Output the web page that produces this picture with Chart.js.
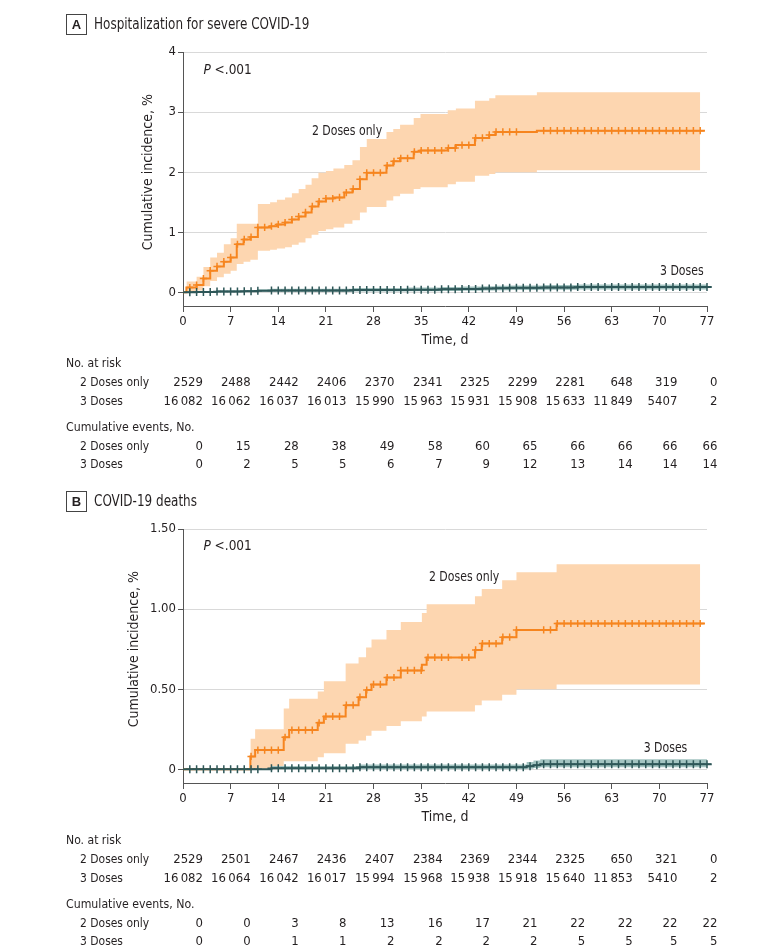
<!DOCTYPE html>
<html lang="en">
<head>
<meta charset="UTF-8">
<title>Cumulative incidence by dose group</title>
<style>
  body { margin: 0; background: #fff; overflow: hidden; }
  canvas { position: absolute; left: 0; }
  #chartA { top: 0; }
  #chartB { top: 477px; }
</style>
</head>
<body>
<canvas id="chartA" width="780" height="477"></canvas>
<canvas id="chartB" width="780" height="477"></canvas>

<script src="https://cdn.jsdelivr.net/npm/chart.js"></script>
<script>
// x axis / table columns
const timeTicks = [0, 7, 14, 21, 28, 35, 42, 49, 56, 63, 70, 77];

// ---- Panel A: hospitalization ----
const yTicksA = [0, 1, 2, 3, 4];
const yLabelsA = ['0', '1', '2', '3', '4'];

const twoDaysA = [0.5, 2, 3, 4, 5, 6, 7, 7.9, 8.9, 9.9, 11, 12.8, 13.8, 15, 16, 17, 18, 18.9, 19.9, 21,
  22.1, 23.7, 24.9, 26, 27, 29.9, 30.9, 31.9, 33.9, 34.9, 38.9, 40.1, 42.9, 45, 45.9, 52];
const twoEstA = [0.08, 0.12, 0.23, 0.36, 0.43, 0.51, 0.58, 0.8, 0.88, 0.92, 1.08, 1.1, 1.13, 1.16, 1.21, 1.26, 1.33, 1.43, 1.51, 1.56,
  1.58, 1.66, 1.72, 1.88, 1.99, 2.11, 2.18, 2.23, 2.34, 2.36, 2.4, 2.45, 2.57, 2.62, 2.67, 2.69];
const twoLowA = [0, 0.03, 0.1, 0.19, 0.25, 0.31, 0.36, 0.47, 0.51, 0.54, 0.69, 0.71, 0.73, 0.75, 0.79, 0.83, 0.9, 0.96, 1.02, 1.05,
  1.08, 1.14, 1.2, 1.33, 1.42, 1.53, 1.6, 1.64, 1.72, 1.75, 1.8, 1.84, 1.94, 1.97, 2.0, 2.03];
const twoHighA = [0.18, 0.26, 0.42, 0.58, 0.66, 0.8, 0.9, 1.14, 1.14, 1.14, 1.47, 1.5, 1.54, 1.58, 1.65, 1.72, 1.79, 1.9, 1.99, 2.02,
  2.06, 2.12, 2.2, 2.42, 2.55, 2.67, 2.72, 2.79, 2.9, 2.97, 3.03, 3.06, 3.19, 3.23, 3.28, 3.33];
const twoCensorA = [1, 2, 3, 4, 5, 6, 7, 8, 9, 10, 11, 12, 13, 14, 15, 16, 17, 18, 19, 20, 21, 22, 23, 24, 25,
  26, 27, 28, 29, 30, 31, 32, 33, 34, 35, 36, 37, 38, 39, 40, 41, 42, 43, 44, 45, 46, 47, 48, 49,
  53, 54, 55, 56, 57, 58, 59, 60, 61, 62, 63, 64, 65, 66, 67, 68, 69, 70, 71, 72, 73, 74, 75, 76];

const threeDaysA = [2, 5, 9, 11, 13, 25, 33, 38, 41, 44, 46, 48, 53, 58];
const threeEstA = [0.006, 0.012, 0.019, 0.025, 0.031, 0.037, 0.044, 0.05, 0.056, 0.062, 0.069, 0.075, 0.081, 0.088];
const threeLowA = [0, 0.002, 0.005, 0.008, 0.011, 0.015, 0.019, 0.023, 0.027, 0.031, 0.035, 0.04, 0.044, 0.048];
const threeHighA = [0.02, 0.03, 0.04, 0.05, 0.06, 0.07, 0.08, 0.09, 0.095, 0.1, 0.11, 0.115, 0.12, 0.13];
const threeCensorA = [1, 2, 3, 4, 5, 6, 7, 8, 9, 10, 11, 13, 14, 15, 16, 17, 18, 19, 20, 21, 22, 23, 24, 25,
  26, 27, 28, 29, 30, 31, 32, 33, 34, 35, 36, 37, 38, 39, 40, 41, 42, 43, 44, 45, 46, 47, 48, 49, 50,
  51, 52, 53, 54, 55, 56, 57, 58, 59, 60, 61, 62, 63, 64, 65, 66, 67, 68, 69, 70, 71, 72, 73, 74, 75, 76, 77];

const riskTwoA = [2529, 2488, 2442, 2406, 2370, 2341, 2325, 2299, 2281, 648, 319, 0];
const riskThreeA = [16082, 16062, 16037, 16013, 15990, 15963, 15931, 15908, 15633, 11849, 5407, 2];
const eventsTwoA = [0, 15, 28, 38, 49, 58, 60, 65, 66, 66, 66, 66];
const eventsThreeA = [0, 2, 5, 5, 6, 7, 9, 12, 13, 14, 14, 14];

// ---- Panel B: deaths ----
const yTicksB = [0, 0.5, 1, 1.5];
const yLabelsB = ['0', '0.50', '1.00', '1.50'];

const twoDaysB = [9.9, 10.6, 14.8, 15.6, 19.8, 20.7, 23.9, 25.8, 26.9, 27.7, 29.9, 32, 35.1, 35.8, 42.9, 43.9, 46.9, 49, 54.9];
const twoEstB = [0.08, 0.12, 0.2, 0.245, 0.29, 0.33, 0.4, 0.45, 0.495, 0.53, 0.573, 0.617, 0.652, 0.698, 0.745, 0.785, 0.825, 0.87, 0.91];
const twoLowB = [0, 0, 0.05, 0.05, 0.075, 0.1, 0.16, 0.18, 0.21, 0.24, 0.27, 0.3, 0.33, 0.36, 0.4, 0.43, 0.465, 0.5, 0.53];
const twoHighB = [0.19, 0.25, 0.38, 0.44, 0.485, 0.55, 0.66, 0.7, 0.76, 0.81, 0.87, 0.92, 0.975, 1.03, 1.08, 1.125, 1.18, 1.23, 1.28];
const twoCensorB = [10, 11, 12, 13, 14, 15, 16, 17, 18, 19, 20, 21, 22, 23, 24, 25, 26, 27, 28, 29, 30,
  31, 32, 33, 34, 35, 36, 37, 38, 39, 41, 42, 43, 44, 45, 46, 47, 48, 49,
  53, 54, 55, 56, 57, 58, 59, 60, 61, 62, 63, 64, 65, 66, 67, 68, 69, 70, 71, 72, 73, 74, 75, 76];

const threeDaysB = [13, 26, 50.5, 51.5, 52.5];
const threeEstB = [0.006, 0.012, 0.019, 0.025, 0.031];
const threeLowB = [0, 0.001, 0.004, 0.008, 0.012];
const threeHighB = [0.02, 0.03, 0.045, 0.055, 0.062];
const threeCensorB = [1, 2, 3, 4, 5, 6, 7, 8, 9, 10, 11, 13, 14, 15, 16, 17, 18, 19, 20, 21, 22, 23, 24, 25,
  26, 27, 28, 29, 30, 31, 32, 33, 34, 35, 36, 37, 38, 39, 40, 41, 42, 43, 44, 45, 46, 47, 48, 49, 50,
  51, 52, 53, 54, 55, 56, 57, 58, 59, 60, 61, 62, 63, 64, 65, 66, 67, 68, 69, 70, 71, 72, 73, 74, 75, 76, 77];

const riskTwoB = [2529, 2501, 2467, 2436, 2407, 2384, 2369, 2344, 2325, 650, 321, 0];
const riskThreeB = [16082, 16064, 16042, 16017, 15994, 15968, 15938, 15918, 15640, 11853, 5410, 2];
const eventsTwoB = [0, 0, 3, 8, 13, 16, 17, 21, 22, 22, 22, 22];
const eventsThreeB = [0, 0, 1, 1, 2, 2, 2, 2, 5, 5, 5, 5];

// ---- drawing ----
const ORANGE = '#F6851F';
const PEACH = '#FDD6B0';
const TEAL = '#2E5758';
const TEAL_BAND = '#A3C4C1';
const INK = '#231F20';
const NARROW = '"Liberation Sans Narrow", "DejaVu Sans Condensed", sans-serif';

function stepAt(days, vals, t) {
  let v = 0;
  for (let i = 0; i < days.length; i++) if (days[i] <= t) v = vals[i];
  return v;
}
function curve(days, vals, end, fromZero) {
  const pts = days.map((d, i) => ({ x: d, y: vals[i] }));
  if (fromZero) pts.unshift({ x: 0, y: 0 });
  pts.push({ x: end, y: vals[vals.length - 1] });
  return pts;
}
function fmt(n) {
  const s = String(n);
  return s.length > 4 ? s.slice(0, s.length - 3) + '\u2009' + s.slice(-3) : s;
}
// text squeezed a little sideways, the original face is narrower than ours
function squeezed(ctx, txt, x, y, k) {
  ctx.save();
  ctx.translate(x, y);
  ctx.scale(k, 1);
  ctx.fillText(txt, 0, 0);
  ctx.restore();
}

const textPlugin = {
  id: 'panelText',
  afterDraw(chart) {
    const p = chart.options.plugins.panelText;
    const ctx = chart.ctx;
    const xs = chart.scales.x, ys = chart.scales.y;
    ctx.save();
    ctx.fillStyle = INK;
    ctx.strokeStyle = '#444';
    ctx.lineWidth = 1;

    // panel letter box + title
    ctx.strokeRect(66.5, 14.5, 20, 20);
    ctx.font = 'bold 13px "Liberation Sans", Arial, sans-serif';
    ctx.textAlign = 'center';
    ctx.textBaseline = 'middle';
    ctx.fillText(p.letter, 76.5, 25);
    ctx.font = '15px ' + NARROW;
    ctx.textAlign = 'left';
    squeezed(ctx, p.title, 94, 25, 0.89);

    // P value
    ctx.font = 'italic 13.5px ' + NARROW;
    const px = xs.getPixelForValue(p.pPos[0]), py = ys.getPixelForValue(p.pPos[1]);
    ctx.fillText('P', px, py);
    const pw = ctx.measureText('P ').width;
    ctx.font = '13.5px ' + NARROW;
    ctx.fillText('<.001', px + pw, py);

    // group labels
    ctx.textAlign = 'center';
    squeezed(ctx, '2 Doses only', xs.getPixelForValue(p.twoLabel[0]), ys.getPixelForValue(p.twoLabel[1]), 0.9);
    squeezed(ctx, '3 Doses', xs.getPixelForValue(p.threeLabel[0]), ys.getPixelForValue(p.threeLabel[1]), 0.9);

    // axis titles
    ctx.font = '14px ' + NARROW;
    ctx.fillText('Time, d', (xs.left + xs.right) / 2, 340);
    ctx.save();
    ctx.translate(p.yTitleX, ys.getPixelForValue(p.yMid));
    ctx.rotate(-Math.PI / 2);
    ctx.fillText('Cumulative incidence, %', 0, 0);
    ctx.restore();

    // number-at-risk / events table
    const shift = [20, 20, 20.5, 20.5, 21, 21.5, 21, 21, 21, 21, 18, 10.5];
    const rowsY = [364, 383, 402, 428, 447, 465];
    ctx.font = '13px ' + NARROW;
    ctx.textAlign = 'left';
    squeezed(ctx, 'No. at risk', 66, rowsY[0], 0.93);
    squeezed(ctx, '2 Doses only', 80, rowsY[1], 0.92);
    squeezed(ctx, '3 Doses', 80, rowsY[2], 0.92);
    squeezed(ctx, 'Cumulative events, No.', 66, rowsY[3], 0.94);
    squeezed(ctx, '2 Doses only', 80, rowsY[4], 0.92);
    squeezed(ctx, '3 Doses', 80, rowsY[5], 0.92);
    ctx.textAlign = 'right';
    const rows = [[p.riskTwo, 1], [p.riskThree, 2], [p.eventsTwo, 4], [p.eventsThree, 5]];
    rows.forEach(([vals, r]) => {
      vals.forEach((v, i) => {
        ctx.fillText(fmt(v), xs.getPixelForValue(timeTicks[i]) + shift[i], rowsY[r]);
      });
    });
    ctx.restore();
  }
};

function makePanel(id, p) {
  const datasets = [
    // confidence bands
    { data: curve(p.twoDays, p.twoLow, 76, false), stepped: true, borderWidth: 0, pointRadius: 0, fill: false, order: 10 },
    { data: curve(p.twoDays, p.twoHigh, 76, false), stepped: true, borderWidth: 0, pointRadius: 0,
      fill: '-1', backgroundColor: PEACH, order: 10 },
    { data: curve(p.threeDays, p.threeLow, 77.7, true), stepped: true, borderWidth: 0, pointRadius: 0, fill: false, order: 9, clip: false },
    { data: curve(p.threeDays, p.threeHigh, 77.7, true), stepped: true, borderWidth: 0, pointRadius: 0,
      fill: '-1', backgroundColor: TEAL_BAND, order: 9, clip: false },
    // estimates
    { data: curve(p.twoDays, p.twoEst, 76.7, true), stepped: true, borderColor: ORANGE, borderWidth: 2,
      pointRadius: 0, fill: false, order: 4 },
    { data: curve(p.threeDays, p.threeEst, 77.7, true), stepped: true, borderColor: TEAL, borderWidth: 2,
      pointRadius: 0, fill: false, order: 3, clip: false },
    // censoring marks
    { data: p.twoCensor.map(d => ({ x: d, y: stepAt(p.twoDays, p.twoEst, d) })), showLine: false,
      pointStyle: 'cross', pointRadius: 3.6, pointBorderWidth: 1.5, pointBorderColor: ORANGE, order: 2 },
    { data: p.threeCensor.map(d => ({ x: d, y: stepAt(p.threeDays, p.threeEst, d) })), showLine: false,
      pointStyle: 'cross', pointRadius: 4, pointBorderWidth: 1.5, pointBorderColor: TEAL, order: 1, clip: false }
  ];

  new Chart(document.getElementById(id), {
    type: 'line',
    data: { datasets },
    plugins: [textPlugin],
    options: {
      responsive: false,
      animation: false,
      devicePixelRatio: 1,
      layout: { padding: { top: 52, right: 73, bottom: 0, left: 0 } },
      plugins: {
        legend: { display: false },
        tooltip: { enabled: false },
        panelText: p
      },
      scales: {
        x: {
          type: 'linear', min: 0, max: 77,
          afterBuildTicks: s => { s.ticks = timeTicks.map(v => ({ value: v })); },
          afterFit: s => { s.height = 171; },
          ticks: { color: INK, font: { size: 13, family: NARROW }, padding: 2, maxRotation: 0 },
          grid: { drawOnChartArea: false, drawTicks: true, tickLength: 6, tickColor: '#555' },
          border: { display: true, color: '#555', width: 1 }
        },
        y: {
          type: 'linear', min: p.yMin, max: p.yMax,
          afterBuildTicks: s => { s.ticks = p.yTicks.map(v => ({ value: v })); },
          afterFit: s => { s.width = 183; },
          ticks: {
            color: INK, font: { size: 13, family: NARROW }, padding: 2,
            callback: v => p.yLabels[p.yTicks.indexOf(v)]
          },
          grid: { color: '#D9D9D9', tickColor: '#555', tickLength: 5, lineWidth: 1 },
          border: { display: true, color: '#555', width: 1 }
        }
      }
    }
  });
}

makePanel('chartA', {
  letter: 'A', title: 'Hospitalization for severe COVID-19',
  yMin: -0.228, yMax: 4, yTicks: yTicksA, yLabels: yLabelsA, yMid: 2, yTitleX: 148,
  pPos: [3, 3.69], twoLabel: [24.1, 2.67], threeLabel: [73.3, 0.34],
  twoDays: twoDaysA, twoEst: twoEstA, twoLow: twoLowA, twoHigh: twoHighA, twoCensor: twoCensorA,
  threeDays: threeDaysA, threeEst: threeEstA, threeLow: threeLowA, threeHigh: threeHighA, threeCensor: threeCensorA,
  riskTwo: riskTwoA, riskThree: riskThreeA, eventsTwo: eventsTwoA, eventsThree: eventsThreeA
});

makePanel('chartB', {
  letter: 'B', title: 'COVID-19 deaths',
  yMin: -0.0856, yMax: 1.5, yTicks: yTicksB, yLabels: yLabelsB, yMid: 0.75, yTitleX: 134,
  pPos: [3, 1.39], twoLabel: [41.3, 1.2], threeLabel: [70.9, 0.127],
  twoDays: twoDaysB, twoEst: twoEstB, twoLow: twoLowB, twoHigh: twoHighB, twoCensor: twoCensorB,
  threeDays: threeDaysB, threeEst: threeEstB, threeLow: threeLowB, threeHigh: threeHighB, threeCensor: threeCensorB,
  riskTwo: riskTwoB, riskThree: riskThreeB, eventsTwo: eventsTwoB, eventsThree: eventsThreeB
});
</script>
</body>
</html>
